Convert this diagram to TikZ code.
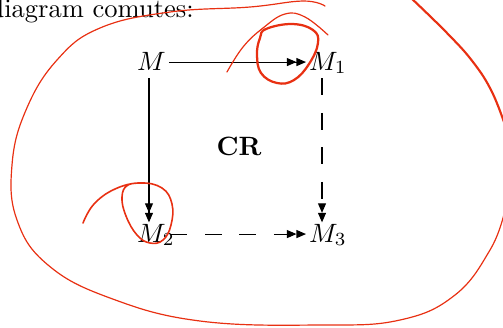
\documentclass[tikz,border=0pt]{standalone}
\usetikzlibrary{arrows.meta}
\definecolor{pen}{RGB}{232,48,18}
\tikzset{
  obj/.style={anchor=base, inner xsep=1pt, inner ysep=1pt, text height=7.5pt, text depth=1.5pt},
  epi/.style={-{Triangle[length=3.6pt,width=3pt]Triangle[length=3.6pt,width=3pt]}},
  dsh/.style={dash pattern=on 6.3pt off 6.7pt},
  ink/.style={pen, line cap=round, line join=round},
}
\begin{document}
\begin{tikzpicture}[x=0.3774pt, y=-0.3774pt]
\useasboundingbox (0,0) rectangle (503,327);
\node[anchor=base west, inner sep=0pt] (title) at (-11,17) {diagram comutes:};
\node[obj] (M)  at (151.5,70) {$M$};
\node[obj] (M1) at (328,70)   {$M_1$};
\node[obj] (M2) at (156,242)  {$M_2$};
\node[obj] (M3) at (328,242)  {$M_3$};
\node[font=\bfseries] (CR) at (239,146) {CR};
% arrows
\draw[epi] (M.east) -- (M1.west);
\draw[epi, shorten <=0.5pt, shorten >=-1.3pt] ([xshift=-0.95pt]M.south) -- ([xshift=-0.95pt]M.south |- M2.north);
\draw[epi, dsh, shorten <=0.5pt, shorten >=-1.3pt] ([xshift=-2.26pt]M1.south) -- ([xshift=-2.26pt]M1.south |- M3.north);
\draw[epi, dsh] ([xshift=-2.8pt]M2.east) -- (M3.west);
% red annotations
\draw[ink, line width=0.45pt] plot[smooth, tension=0.7] coordinates {
 (325,6) (303,1) (250,7) (170,12) (100,28) (57,60) (26,110) (12,165) (17,220) (48,265) (110,298)
 (200,321) (320,325) (400,320) (455,295) (490,250) (504,214)};
\draw[ink, line width=0.8pt] plot[smooth, tension=0.7] coordinates {
 (410,-3) (447,33) (473,62) (492,92) (506,128)};
\draw[ink, line width=0.45pt] plot[smooth, tension=0.7] coordinates {
 (227,72) (243,47) (263,28) (285,14) (305,17) (328,35)};
\draw[ink, line width=0.85pt] plot[smooth cycle, tension=0.7] coordinates {
 (266,29) (292,24) (313,30) (318,43) (309,64) (294,80) (277,83) (261,73) (257,54) (260,38)};
\draw[ink, line width=0.6pt] plot[smooth, tension=0.7] coordinates {
 (83,223) (94,204) (115,189) (140,183) (162,188) (172,204) (171,225) (163,240) (150,243) (137,235)
 (126,216) (122,197) (128,185) (145,183)};
\end{tikzpicture}
\end{document}
